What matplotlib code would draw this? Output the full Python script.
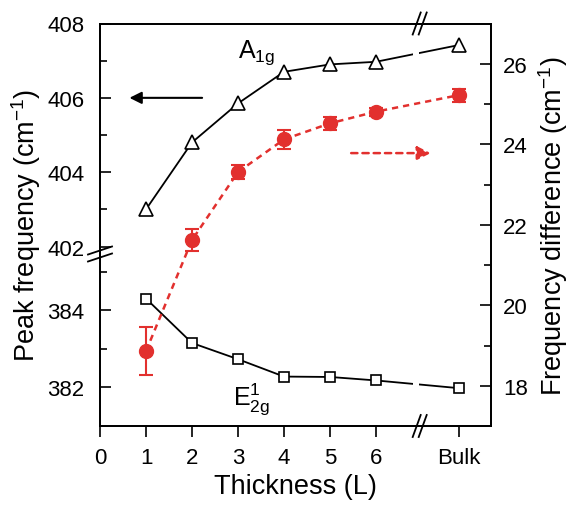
import numpy as np
import matplotlib
matplotlib.use("Agg")
import matplotlib.pyplot as plt
from matplotlib.ticker import FixedLocator

plt.rcParams['font.family'] = ['Liberation Sans', 'DejaVu Sans']
plt.rcParams['mathtext.default'] = 'regular'

# data
layers = [1, 2, 3, 4, 5, 6]
tick_labels = ['0', '1', '2', '3', '4', '5', '6', 'Bulk']
a1g = [403.0, 404.8, 405.85, 406.7, 406.9, 406.97, 407.42]
e2g = [384.3, 383.15, 382.73, 382.28, 382.27, 382.18, 381.98]
freq_diff = [18.86, 21.62, 23.31, 24.12, 24.52, 24.81, 25.22]
freq_diff_err = [0.6, 0.28, 0.17, 0.24, 0.16, 0.1, 0.16]

BULK_X = 7.8
BREAK_X = 6.95
xpos = layers + [BULK_X]
red = '#e2302e'

# broken left axis: piecewise linear scale (lower block 381-385.4, upper block 401.85-408)
y_knots = [381.0, 385.4, 401.85, 408.0]
u_knots = [0.2, 170.0, 174.0, 402.5]

def fwd(y):
    return np.interp(y, y_knots, u_knots)

def inv(u):
    return np.interp(u, u_knots, y_knots)

fig = plt.figure(figsize=(5.69, 5.06), dpi=100)
ax = fig.add_axes([100/569, 79/506, 391/569, 402.5/506])
ax.set_yscale('function', functions=(fwd, inv))
ax.set_ylim(381, 408)
ax.set_xlim(0, 8.5)

ax.plot(xpos, a1g, '-', color='black', lw=1.3, marker='^', ms=9.5,
        mfc='white', mec='black', mew=1.2, zorder=2)
ax.plot(xpos, e2g, '-', color='black', lw=1.3, marker='s', ms=7,
        mfc='white', mec='black', mew=1.2, zorder=2)
# gap in the black lines at the x break
ax.axvspan(BREAK_X - 0.15, BREAK_X - 0.02, color='white', zorder=2.2, lw=0)

ax.yaxis.set_major_locator(FixedLocator([382, 384, 402, 404, 406, 408]))
ax.yaxis.set_minor_locator(FixedLocator([383, 385, 403, 405, 407]))
ax.yaxis.set_major_formatter(plt.FuncFormatter(lambda v, p: f"{v:.0f}"))
ax.yaxis.set_minor_formatter(plt.NullFormatter())
ax.set_xticks([0] + xpos)
ax.set_xticklabels(tick_labels)

ax.tick_params(axis='y', which='major', direction='in', length=8, width=1.2, labelsize=16, pad=11)
ax.tick_params(axis='y', which='minor', direction='in', length=5, width=1.2)
ax.tick_params(axis='x', direction='out', length=8, width=1.2, labelsize=16, pad=7)
for s in ax.spines.values():
    s.set_linewidth(1.3)

ax.set_xlabel('Thickness (L)', fontsize=19.5, labelpad=4)
ax.set_ylabel('Peak frequency (cm$^{-1}$)', fontsize=19.5, labelpad=3)

ax.text(3.0, 407.1, '$A_{1g}$', fontsize=18, va='baseline', ha='left')
ax.text(2.9, 381.57, '$E^{1}_{2g}$', fontsize=18, va='baseline', ha='left')

ax.annotate('', xy=(0.58, 406), xytext=(2.28, 406),
            arrowprops=dict(arrowstyle='-|>', color='black', lw=1.5, mutation_scale=18))

# right axis
ax2 = ax.twinx()
ax2.set_ylim(17, 27)
ax2.errorbar(xpos, freq_diff, yerr=freq_diff_err, color=red, lw=1.8,
             linestyle=(0, (2.5, 2)), marker='o', ms=10, mfc=red, mec=red,
             ecolor=red, elinewidth=1.5, capsize=5, capthick=1.5, zorder=3)
ax2.annotate('', xy=(7.25, 23.78), xytext=(5.4, 23.78),
             arrowprops=dict(arrowstyle='-|>', color=red, lw=1.8,
                             linestyle=(0, (2.5, 2)), mutation_scale=20))
ax2.yaxis.set_major_locator(FixedLocator([18, 20, 22, 24, 26]))
ax2.yaxis.set_minor_locator(FixedLocator([19, 21, 23, 25]))
ax2.tick_params(axis='y', which='major', direction='in', length=8, width=1.2, labelsize=16, pad=8.5)
ax2.tick_params(axis='y', which='minor', direction='in', length=5, width=1.2)
for s in ax2.spines.values():
    s.set_linewidth(1.3)
ax2.set_ylabel('Frequency difference (cm$^{-1}$)', fontsize=19.5, labelpad=6)

# break marks
W, H = 391.0, 402.5
bx = BREAK_X / 8.5
for yb in (0, 1):
    for d in (-3, 3):
        ax2.plot([bx + (d - 4)/W, bx + (d + 4)/W], [yb - 11/H, yb + 11/H],
                 transform=ax2.transAxes, color='black', lw=1.3, clip_on=False, zorder=5)
ay = 172 / H
for d in (-3.5, 3.5):
    ax2.plot([-12/W, 12/W], [ay + (d - 4)/H, ay + (d + 4)/H],
             transform=ax2.transAxes, color='black', lw=1.3, clip_on=False, zorder=5)

fig.savefig('out.png', dpi=100)
